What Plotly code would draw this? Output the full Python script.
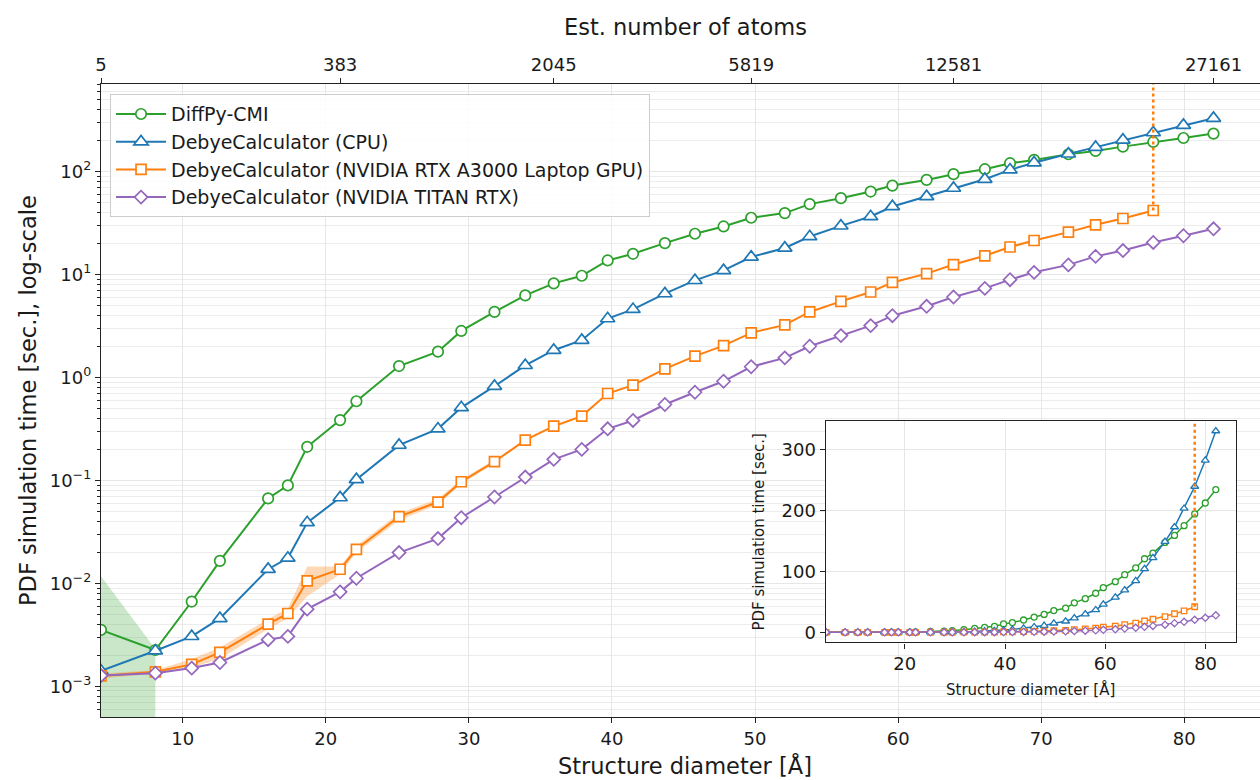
import plotly.graph_objects as go

# ---------------- data ----------------
diameter = [4.29, 8.09, 10.63, 12.6, 15.97, 17.35, 18.7, 21.0, 22.14, 25.12, 27.84, 29.47,
            31.79, 33.94, 35.93, 37.89, 39.70, 41.47, 43.7, 45.8, 47.8, 49.73, 52.08, 53.82,
            56.0, 58.08, 59.6, 61.99, 63.87, 66.06, 67.82, 69.5, 71.9, 73.8, 75.71, 77.83,
            79.94, 82.04]

diffpy = [3.53e-3, 2.25e-3, 6.65e-3, 0.0165, 0.0668, 0.0893, 0.212, 0.385, 0.587, 1.29, 1.78,
          2.83, 4.33, 6.27, 8.2, 9.73, 13.7, 15.9, 20.2, 24.9, 29.3, 35.6, 39.5, 48.3, 55.2,
          64.0, 73.1, 83.0, 94.4, 105.5, 120.6, 129.8, 147.4, 158.8, 174.8, 194.0, 212.0, 234.0]

cpu = [1.41e-3, 2.21e-3, 3.05e-3, 4.56e-3, 0.0137, 0.0176, 0.0389, 0.068, 0.102, 0.22, 0.317,
       0.51, 0.822, 1.31, 1.84, 2.30, 3.73, 4.59, 6.52, 8.77, 10.96, 14.8, 18.1, 23.4, 29.7,
       36.6, 45.8, 57.3, 69.1, 84.3, 104.0, 122.0, 148.6, 172.6, 203.0, 239.0, 282.0, 330.0]

a3000 = [1.26e-3, 1.38e-3, 1.63e-3, 2.13e-3, 4.01e-3, 5.09e-3, 0.01055, 0.0137, 0.0214, 0.0445,
         0.0616, 0.097, 0.152, 0.246, 0.336, 0.421, 0.698, 0.841, 1.21, 1.61, 2.04, 2.71, 3.24,
         4.33, 5.48, 6.76, 8.38, 10.2, 12.5, 15.2, 18.5, 21.4, 25.8, 30.4, 35.0, 41.9]

titan = [1.27e-3, 1.34e-3, 1.50e-3, 1.70e-3, 2.83e-3, 3.05e-3, 5.61e-3, 8.26e-3, 0.0112, 0.0199,
         0.0272, 0.0434, 0.0689, 0.1077, 0.16, 0.2, 0.317, 0.382, 0.546, 0.718, 0.918, 1.27,
         1.55, 2.01, 2.55, 3.19, 3.98, 4.91, 6.05, 7.33, 8.91, 10.5, 12.4, 15.0, 17.1, 20.5,
         23.8, 27.8]

# spread bands (visible part)
diffpy_band_hi = [0.0117, 0.0023]
diffpy_band_lo = [1e-4, 1e-4]
a3000_band_hi = [1.33e-3, 1.43e-3, 1.84e-3, 2.38e-3, 4.49e-3, 5.70e-3, 0.0146, 0.0146, 0.0231,
                 0.048, 0.066, 0.102, 0.158]
a3000_band_lo = [1.19e-3, 1.33e-3, 1.52e-3, 1.84e-3, 3.59e-3, 4.56e-3, 7.5e-3, 0.01225, 0.0199,
                 0.041, 0.058, 0.092, 0.146]

atoms_tick_index = [0, 7, 14, 21, 28, 37]
atoms_tick_labels = ["5", "383", "2045", "5819", "12581", "27161"]

names = ["DiffPy-CMI", "DebyeCalculator (CPU)",
         "DebyeCalculator (NVIDIA RTX A3000 Laptop GPU)", "DebyeCalculator (NVIDIA TITAN RTX)"]

# ---------------- style ----------------
GREEN, BLUE, ORANGE, PURPLE = "#2ca02c", "#1f77b4", "#ff7f0e", "#9467bd"
FONT = "DejaVu Sans"
TXT = "#1a1a1a"
AX = "#222222"
GRID = "#e6e6e6"

series = [
    (names[0], diffpy, GREEN, "circle", 10.5, 6),
    (names[1], cpu, BLUE, "triangle-up", 12.5, 7),
    (names[2], a3000, ORANGE, "square", 10, 5.5),
    (names[3], titan, PURPLE, "diamond", 10, 5.5),
]

fig = go.Figure()

# bands
bx = diameter[:len(diffpy_band_hi)]
fig.add_trace(go.Scatter(x=bx + bx[::-1], y=diffpy_band_hi + diffpy_band_lo[::-1],
                         fill="toself", fillcolor="rgba(44,160,44,0.25)", mode="lines",
                         line=dict(width=0), showlegend=False, hoverinfo="skip"))
ox = diameter[:len(a3000_band_hi)]
fig.add_trace(go.Scatter(x=ox + ox[::-1], y=a3000_band_hi + a3000_band_lo[::-1],
                         fill="toself", fillcolor="rgba(255,127,14,0.3)", mode="lines",
                         line=dict(width=0), showlegend=False, hoverinfo="skip"))

# main series
for name, vals, col, sym, msz, _ in series:
    fig.add_trace(go.Scatter(
        x=diameter[:len(vals)], y=vals, name=name, mode="lines+markers",
        line=dict(color=col, width=2),
        marker=dict(symbol=sym, size=msz, color="white", line=dict(color=col, width=1.7)),
        hoverinfo="skip"))

# main dotted limit line for the laptop GPU
y_top_main = 10 ** 2.851
fig.add_trace(go.Scatter(x=[diameter[len(a3000) - 1]] * 2, y=[a3000[-1], y_top_main],
                         mode="lines", line=dict(color=ORANGE, width=2.5, dash="dot"),
                         showlegend=False, hoverinfo="skip"))

# top axis helper trace
fig.add_trace(go.Scatter(x=[diameter[0]], y=[diffpy[0]], xaxis="x3", yaxis="y",
                         mode="markers", marker=dict(size=0.1, opacity=0),
                         showlegend=False, hoverinfo="skip"))

# inset series
y2_range = [-16.4, 346.9]
for name, vals, col, sym, _, msz in series:
    fig.add_trace(go.Scatter(
        x=diameter[:len(vals)], y=vals, xaxis="x2", yaxis="y2", mode="lines+markers",
        line=dict(color=col, width=1.5),
        marker=dict(symbol=sym, size=msz, color="white", line=dict(color=col, width=1.3)),
        showlegend=False, hoverinfo="skip"))
fig.add_trace(go.Scatter(x=[diameter[len(a3000) - 1]] * 2, y=[a3000[-1], y2_range[1]],
                         xaxis="x2", yaxis="y2", mode="lines",
                         line=dict(color=ORANGE, width=2.5, dash="dot"),
                         showlegend=False, hoverinfo="skip"))

x_range = [diameter[0], 85.29]
x2_range = [4.23, 86.0]

minor_vals = [m * 10.0 ** e for e in range(-4, 3) for m in range(2, 10)]
tick_font = dict(family=FONT, size=18, color=TXT)

fig.update_layout(
    width=1260, height=780,
    margin=dict(l=101, r=0, t=84, b=63),
    paper_bgcolor="white", plot_bgcolor="white",
    font=dict(family=FONT, color=TXT),
    showlegend=True,
    legend=dict(x=0.0078, y=0.984, xanchor="left", yanchor="top",
                bgcolor="rgba(255,255,255,0.85)", bordercolor="#cccccc", borderwidth=1,
                font=dict(family=FONT, size=19, color=TXT), itemwidth=50),
    xaxis=dict(range=x_range, domain=[0, 1], anchor="y",
               tickvals=[10, 20, 30, 40, 50, 60, 70, 80], ticks="outside", ticklen=5,
               tickwidth=1.2, tickcolor=AX, showline=True, linecolor=AX, linewidth=1.4,
               showgrid=True, gridcolor=GRID, gridwidth=1, zeroline=False,
               tickfont=tick_font),
    xaxis3=dict(range=x_range, overlaying="x", side="top", anchor="y",
                tickmode="array", tickvals=[diameter[i] for i in atoms_tick_index],
                ticktext=atoms_tick_labels, ticks="outside", ticklen=5, tickwidth=1.2,
                tickcolor=AX, showline=True, linecolor=AX, linewidth=1.4,
                showgrid=False, zeroline=False, tickfont=tick_font),
    yaxis=dict(type="log", range=[-3.299, 2.851], domain=[0, 1], anchor="x",
               tickmode="array", tickvals=[1e-3, 1e-2, 1e-1, 1e0, 1e1, 1e2],
               ticktext=["10<sup>−3</sup>", "10<sup>−2</sup>", "10<sup>−1</sup>",
                         "10<sup>0</sup>", "10<sup>1</sup>", "10<sup>2</sup>"],
               ticks="outside", ticklen=5, tickwidth=1.2, tickcolor=AX,
               showline=True, linecolor=AX, linewidth=1.4,
               showgrid=True, gridcolor=GRID, gridwidth=1, zeroline=False,
               tickfont=tick_font,
               minor=dict(tickmode="array", tickvals=minor_vals, ticks="outside", ticklen=3,
                          tickwidth=1, tickcolor=AX, showgrid=True, gridcolor="#ececec",
                          gridwidth=1)),
    xaxis2=dict(range=x2_range, domain=[0.6253, 0.979], anchor="y2",
                tickvals=[20, 40, 60, 80], ticks="outside", ticklen=5, tickwidth=1.2,
                tickcolor=AX, showline=True, mirror=True, linecolor=AX, linewidth=1.4,
                showgrid=True, gridcolor=GRID, zeroline=False, tickfont=tick_font),
    yaxis2=dict(range=y2_range, domain=[0.118, 0.4681], anchor="x2",
                tickvals=[0, 100, 200, 300], ticks="outside", ticklen=5, tickwidth=1.2,
                tickcolor=AX, showline=True, mirror=True, linecolor=AX, linewidth=1.4,
                showgrid=True, gridcolor=GRID, zeroline=False, tickfont=tick_font),
    shapes=[dict(type="rect", xref="x2", yref="y2", x0=x2_range[0], x1=x2_range[1],
                 y0=y2_range[0], y1=y2_range[1], fillcolor="white",
                 line=dict(width=0), layer="below")],
    annotations=[
        dict(text="Structure diameter [Å]", xref="paper", yref="paper", x=0.504, y=-0.0765,
             xanchor="center", yanchor="middle", showarrow=False,
             font=dict(family=FONT, size=22.5, color=TXT)),
        dict(text="Est. number of atoms", xref="paper", yref="paper", x=0.504, y=1.090,
             xanchor="center", yanchor="middle", showarrow=False,
             font=dict(family=FONT, size=22.5, color=TXT)),
        dict(text="PDF simulation time [sec.], log-scale", xref="paper", yref="paper",
             x=-0.063, y=0.5008, xanchor="center", yanchor="middle", textangle=-90,
             showarrow=False, font=dict(family=FONT, size=22.5, color=TXT)),
        dict(text="PDF simulation time [sec.]", xref="paper", yref="paper",
             x=0.5677, y=0.293, xanchor="center", yanchor="middle", textangle=-90,
             showarrow=False, font=dict(family=FONT, size=15, color=TXT)),
        dict(text="Structure diameter [Å]", xref="paper", yref="paper",
             x=0.8022, y=0.0442, xanchor="center", yanchor="middle",
             showarrow=False, font=dict(family=FONT, size=15, color=TXT)),
    ],
)

fig.write_html("out.html", config={"displayModeBar": False},
               post_script="document.body.style.margin='0px';"
                           "document.documentElement.style.overflow='hidden';")
